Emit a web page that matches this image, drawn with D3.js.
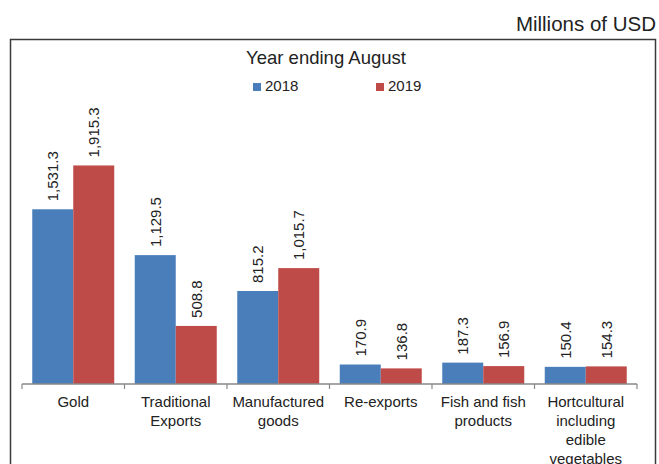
<!DOCTYPE html>
<html>
<head>
<meta charset="utf-8">
<script src="https://cdn.jsdelivr.net/npm/d3@7/dist/d3.min.js"></script>
<style>
  html, body { margin: 0; padding: 0; background: #fff; }
  svg { display: block; font-family: "Liberation Sans", Arial, sans-serif; }
</style>
</head>
<body>
<svg id="chart" width="659" height="464"></svg>
<script>
// Export categories (each label split into display lines)
const categories = [
  ["Gold"],
  ["Traditional", "Exports"],
  ["Manufactured", "goods"],
  ["Re-exports"],
  ["Fish and fish", "products"],
  ["Hortcultural", "including", "edible", "vegetables"]
];
const seriesNames = ["2018", "2019"];
const values2018 = [1531.3, 1129.5, 815.2, 170.9, 187.3, 150.4];
const values2019 = [1915.3, 508.8, 1015.7, 136.8, 156.9, 154.3];
const colors = ["#4a7ebb", "#be4b48"];

const svg = d3.select("#chart");
const W = 659, H = 464;

// Outer frame (open at the bottom edge of the view)
svg.append("rect")
  .attr("x", 10.5).attr("y", 39.5)
  .attr("width", 645).attr("height", 500)
  .attr("fill", "none").attr("stroke", "#3a3a3a").attr("stroke-width", 1.5);

// Unit note
svg.append("text")
  .attr("x", 656).attr("y", 31)
  .attr("text-anchor", "end")
  .attr("font-size", 20.5).attr("fill", "#222")
  .text("Millions of USD");

// Title
svg.append("text")
  .attr("x", 326).attr("y", 63.5)
  .attr("text-anchor", "middle")
  .attr("font-size", 18.5).attr("fill", "#222")
  .text("Year ending August");

// Legend
const legendX = [253, 376];
seriesNames.forEach((name, i) => {
  const g = svg.append("g").attr("transform", `translate(${legendX[i]},83)`);
  g.append("rect").attr("width", 8).attr("height", 8).attr("fill", colors[i]);
  g.append("text").attr("x", 12).attr("y", 7.5)
    .attr("font-size", 15).attr("fill", "#222").text(name);
});

// Scales
const baseY = 384;
const x0 = d3.scaleBand()
  .domain(d3.range(categories.length))
  .range([22, 637])
  .padding(0);
const x1 = d3.scaleBand()
  .domain(seriesNames)
  .range([x0.bandwidth() * 0.1, x0.bandwidth() * 0.9])
  .padding(0);
const y = d3.scaleLinear()
  .domain([0, 2000])
  .range([baseY, baseY - 228.2]);

const rows = categories.map((c, i) => ({
  i,
  vals: [values2018[i], values2019[i]]
}));

// Bars and rotated value labels
const groups = svg.append("g").selectAll("g")
  .data(rows).join("g")
  .attr("transform", d => `translate(${x0(d.i)},0)`);

groups.selectAll("rect")
  .data(d => d.vals.map((v, k) => ({ v, k })))
  .join("rect")
  .attr("x", d => x1(seriesNames[d.k]))
  .attr("width", x1.bandwidth())
  .attr("y", d => y(d.v))
  .attr("height", d => baseY - y(d.v))
  .attr("fill", d => colors[d.k]);

groups.selectAll("text.val")
  .data(d => d.vals.map((v, k) => ({ v, k })))
  .join("text")
  .attr("class", "val")
  .attr("transform", d =>
    `translate(${x1(seriesNames[d.k]) + x1.bandwidth() / 2},${y(d.v) - 8}) rotate(-90)`)
  .attr("dy", "0.35em")
  .attr("font-size", 15).attr("fill", "#222")
  .text(d => d3.format(",.1f")(d.v));

// Category axis
const axis = d3.axisBottom(x0).tickSize(0).tickFormat("");
const axisG = svg.append("g").attr("transform", `translate(0,${baseY})`).call(axis);
axisG.select(".domain").remove();
axisG.append("line")
  .attr("x1", 22).attr("x2", 637)
  .attr("stroke", "#888").attr("stroke-width", 1.5);
const boundaries = d3.range(categories.length + 1).map(i => 22 + i * x0.step());
axisG.selectAll("line.tick-mark")
  .data(boundaries).join("line")
  .attr("class", "tick-mark")
  .attr("x1", d => d).attr("x2", d => d)
  .attr("y1", 0).attr("y2", 5)
  .attr("stroke", "#888").attr("stroke-width", 1.2);

// Multi-line category labels
const labels = svg.append("g").selectAll("text")
  .data(categories).join("text")
  .attr("x", (d, i) => x0(i) + x0.bandwidth() / 2)
  .attr("y", 407)
  .attr("text-anchor", "middle")
  .attr("font-size", 15).attr("fill", "#222");
labels.selectAll("tspan")
  .data(d => d).join("tspan")
  .attr("x", function () { return d3.select(this.parentNode).attr("x"); })
  .attr("dy", (d, j) => j === 0 ? 0 : 19)
  .text(d => d);
</script>
</body>
</html>
